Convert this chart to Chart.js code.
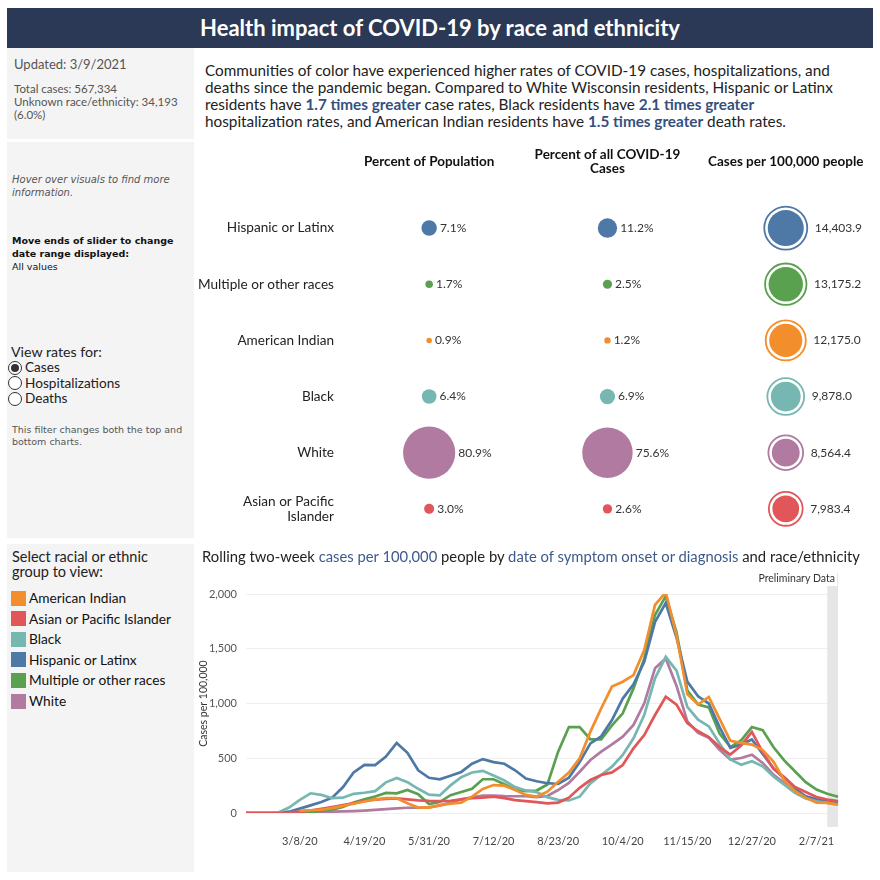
<!DOCTYPE html>
<html>
<head>
<meta charset="utf-8">
<script src="https://cdn.jsdelivr.net/npm/chart.js@4.4.0/dist/chart.umd.min.js"></script>
<style>
  body { margin: 0; width: 880px; height: 880px; background: #fff; font-family: Lato, "Noto Sans", sans-serif; position: relative; overflow: hidden; color: #222; }
  .abs { position: absolute; white-space: nowrap; }
  #hdr { left: 7px; top: 8px; width: 866px; height: 40px; background: #2b3856; color: #fff; font-weight: bold; font-size: 22px; text-align: center; line-height: 40px; }
  .side { position: absolute; left: 7px; width: 187px; background: #f4f4f4; }
  .small { font-family: "DejaVu Sans", sans-serif; font-size: 9.5px; color: #555; line-height: 13px; }
  .radio { position: absolute; left: 8px; width: 12px; height: 12px; border: 1px solid #333; border-radius: 50%; background: #fff; }
  .radio.on::after { content: ""; position: absolute; left: 2px; top: 2px; width: 8px; height: 8px; border-radius: 50%; background: #333; }
  .sw { position: absolute; left: 11px; width: 15px; height: 15px; }
  .hl { color: #34507e; font-weight: bold; }
  .bl { color: #3d5a8c; }
  #para { left: 205px; top: 62px; font-size: 15.3px; line-height: 17px; color: #222; }
</style>
</head>
<body>
<div class="abs" id="hdr">Health impact of COVID-19 by race and ethnicity</div>

<div class="side" style="top:48px;height:91px"></div>
<div class="side" style="top:142px;height:396px"></div>
<div class="side" style="top:544px;height:328px"></div>

<div class="abs" style="left:14px;top:56px;font-size:13px;color:#555">Updated: 3/9/2021</div>
<div class="abs" style="left:14px;top:83px;font-size:11.5px;line-height:12.8px;color:#555">Total cases: 567,334<br>Unknown race/ethnicity: 34,193<br>(6.0%)</div>

<div class="abs small" style="left:12px;top:173px;font-style:italic;font-size:10px">Hover over visuals to find more<br>information.</div>
<div class="abs small" style="left:12px;top:234px;color:#111"><b>Move ends of slider to change<br>date range displayed:</b><br>All values</div>

<div class="abs" style="left:11px;top:343px;font-size:14.2px;color:#222">View rates for:</div>
<div class="radio on" style="top:361px"></div>
<div class="radio" style="top:376px"></div>
<div class="radio" style="top:392px"></div>
<div class="abs" style="left:25px;top:360px;font-size:13.6px;line-height:15.5px;color:#222">Cases<br>Hospitalizations<br>Deaths</div>
<div class="abs small" style="left:12px;top:424px;font-size:9.5px;line-height:12px">This filter changes both the top and<br>bottom charts.</div>

<div class="abs" style="left:12px;top:549px;font-size:14.5px;line-height:15px;color:#222">Select racial or ethnic<br>group to view:</div>
<div id="legend"></div>

<div class="abs" id="para">Communities of color have experienced higher rates of COVID-19 cases, hospitalizations, and<br>deaths since the pandemic began. Compared to White Wisconsin residents, Hispanic or Latinx<br>residents have <span class="hl">1.7 times greater</span> case rates, Black residents have <span class="hl">2.1 times greater</span><br>hospitalization rates, and American Indian residents have <span class="hl">1.5 times greater</span> death rates.</div>

<div class="abs" style="left:195px;top:140px;width:706px;height:423px"><canvas id="bubbles"></canvas></div>

<div class="abs" style="left:202px;top:547px;font-size:14.8px;color:#222">Rolling two-week <span class="bl">cases per 100,000</span> people by <span class="bl">date of symptom onset or diagnosis</span> and race/ethnicity</div>
<div class="abs" style="left:195px;top:565px;width:680px;height:290px"><canvas id="lines"></canvas></div>

<script>
// top section: one row per group
const rows = ['Hispanic or Latinx', 'Multiple or other races', 'American Indian', 'Black', 'White', ['Asian or Pacific', 'Islander']];
const rowColors = ['#4e79a7', '#59a14f', '#f28e2b', '#76b7b2', '#b07aa1', '#e15759'];
const columns = ['Percent of Population', ['Percent of all COVID-19', 'Cases'], 'Cases per 100,000 people'];
const pctPopulation = [7.1, 1.7, 0.9, 6.4, 80.9, 3.0];
const pctCases = [11.2, 2.5, 1.2, 6.9, 75.6, 2.6];
const casesPer100k = [14403.9, 13175.2, 12175.0, 9878.0, 8564.4, 7983.4];

// bottom section: weekly rolling rates
const weeks = ['2/2/20','2/9/20','2/16/20','2/23/20','3/1/20','3/8/20','3/15/20','3/22/20','3/29/20','4/5/20',
  '4/12/20','4/19/20','4/26/20','5/3/20','5/10/20','5/17/20','5/24/20','5/31/20','6/7/20','6/14/20',
  '6/21/20','6/28/20','7/5/20','7/12/20','7/19/20','7/26/20','8/2/20','8/9/20','8/16/20','8/23/20',
  '8/30/20','9/6/20','9/13/20','9/20/20','9/27/20','10/4/20','10/11/20','10/18/20','10/25/20','11/1/20',
  '11/8/20','11/15/20','11/22/20','11/29/20','12/6/20','12/13/20','12/20/20','12/27/20','1/3/21','1/10/21',
  '1/17/21','1/24/21','1/31/21','2/7/21','2/14/21','2/21/21'];
const xTickLabels = ['3/8/20', '4/19/20', '5/31/20', '7/12/20', '8/23/20', '10/4/20', '11/15/20', '12/27/20', '2/7/21'];
const yTicks = [0, 500, 1000, 1500, 2000];
const prelimStart = '2/14/21';

const groups = ['American Indian', 'Asian or Pacific Islander', 'Black', 'Hispanic or Latinx', 'Multiple or other races', 'White'];
const groupColors = ['#f28e2b', '#e15759', '#76b7b2', '#4e79a7', '#59a14f', '#b07aa1'];

const americanIndian = [null,null,null,null,null,20,25,30,45,65,
  85,105,125,135,135,90,50,50,70,85,
  95,150,220,255,250,210,165,150,195,285,
  370,500,743,956,1154,1199,1260,1489,1900,2015,
  1620,1085,990,1060,860,660,640,625,575,470,
  300,200,140,94,93,78];
const asianPI = [0,0,0,0,3,12,22,38,55,72,
  90,110,122,128,133,125,115,110,108,112,
  125,135,140,150,136,118,108,100,88,95,
  140,230,301,347,371,438,591,712,895,1062,
  990,822,747,693,602,534,617,740,556,404,
  328,238,192,146,123,108];
const black = [0,0,0,5,50,120,180,165,135,140,
  175,185,200,280,320,282,221,167,161,252,
  327,370,385,342,297,236,206,191,145,120,
  115,149,271,347,423,530,682,895,1230,1426,
  1300,970,852,791,635,488,441,472,426,333,
  259,184,133,107,92,75];
const hispanic = [0,0,0,2,12,40,70,100,140,235,
  370,440,438,515,640,550,390,322,308,340,
  375,450,492,465,450,390,315,290,272,265,
  323,465,636,700,849,1045,1175,1380,1745,1918,
  1600,1200,1065,1000,785,595,625,671,540,410,
  312,222,153,123,115,100];
const multiple = [0,0,0,0,2,5,10,18,30,55,
  95,125,150,183,180,210,172,82,100,163,
  192,222,308,308,262,212,200,205,260,560,
  785,785,672,672,800,910,1138,1410,1808,1980,
  1650,1120,990,965,725,602,663,785,757,602,
  480,382,282,214,176,149];
const white = [0,0,0,0,2,5,8,10,12,15,
  18,22,28,35,42,48,48,52,70,95,
  125,143,158,160,155,153,153,145,155,210,
  275,377,484,560,627,697,804,1002,1321,1412,
  1160,837,732,686,577,487,502,533,457,350,
  274,213,152,122,107,91];
const series = [americanIndian, asianPI, black, hispanic, multiple, white];

// legend in side panel
const legend = document.getElementById('legend');
groups.forEach((g, i) => {
  const top = 590.5 + i * 20.6;
  legend.insertAdjacentHTML('beforeend',
    `<div class="sw" style="top:${top}px;background:${groupColors[i]}"></div>` +
    `<div class="abs" style="left:29px;top:${top - 1.5}px;font-size:13.7px;color:#111">${g}</div>`);
});

Chart.defaults.font.family = 'Lato, "Noto Sans", sans-serif';
Chart.defaults.animation = false;

// bubble chart
const k1 = 2.9, k3 = 0.15;
const fmt1 = v => v.toLocaleString('en-US', { minimumFractionDigits: 1, maximumFractionDigits: 1 });
const bubbleSets = [
  { data: rows.map((r, i) => ({ x: 0, y: i, r: k1 * Math.sqrt(pctPopulation[i]) })), texts: pctPopulation.map(v => v.toFixed(1) + '%'), gap: 3, order: 1 },
  { data: rows.map((r, i) => ({ x: 1, y: i, r: k1 * Math.sqrt(pctCases[i]) })), texts: pctCases.map(v => v.toFixed(1) + '%'), gap: 3, order: 1 },
  { data: rows.map((r, i) => ({ x: 2, y: i, r: k3 * Math.sqrt(casesPer100k[i]) })), texts: casesPer100k.map(fmt1), gap: 11, order: 1 },
  { data: rows.map((r, i) => ({ x: 2, y: i, r: k3 * Math.sqrt(casesPer100k[i]) + 3.5 })), ring: true, order: 2 }
].map(d => ({
  data: d.data,
  texts: d.texts,
  gap: d.gap,
  order: d.order,
  backgroundColor: d.ring ? '#fff' : rowColors,
  borderColor: rowColors,
  borderWidth: d.ring ? 1.8 : 0,
  hoverRadius: 0
}));

const bubbleLabels = {
  id: 'bubbleLabels',
  afterDatasetsDraw(chart) {
    const ctx = chart.ctx;
    ctx.save();
    ctx.font = '12px Lato, "Noto Sans", sans-serif';
    ctx.fillStyle = '#333';
    ctx.textBaseline = 'middle';
    chart.data.datasets.forEach((ds, di) => {
      if (!ds.texts) return;
      chart.getDatasetMeta(di).data.forEach((el, i) => {
        ctx.fillText(ds.texts[i], el.x + ds.data[i].r + ds.gap, el.y);
      });
    });
    ctx.restore();
  }
};

new Chart(document.getElementById('bubbles'), {
  type: 'bubble',
  data: { datasets: bubbleSets },
  options: {
    responsive: true,
    maintainAspectRatio: false,
    layout: { padding: 0 },
    plugins: { legend: { display: false }, tooltip: { enabled: false } },
    scales: {
      x: {
        type: 'linear', position: 'top', min: -0.5, max: 2.5,
        afterBuildTicks: s => { s.ticks = columns.map((c, i) => ({ value: i })); },
        afterFit: s => { s.height = 60; },
        grid: { display: false }, border: { display: false },
        ticks: { callback: v => columns[v], maxRotation: 0, autoSkip: false, padding: 23, crossAlign: 'center',
          font: { size: 13.5, weight: 'bold', lineHeight: 1.05 }, color: '#111' }
      },
      y: {
        type: 'linear', min: -0.5, max: 5.5, reverse: true,
        afterBuildTicks: s => { s.ticks = rows.map((r, i) => ({ value: i })); },
        afterFit: s => { s.width = 145; },
        grid: { display: false, drawTicks: false }, border: { display: false },
        ticks: { callback: v => rows[v], autoSkip: false, padding: 6, font: { size: 13.6, lineHeight: 1.1 }, color: '#222' }
      }
    }
  },
  plugins: [bubbleLabels]
});

// line chart
const prelimBand = {
  id: 'prelimBand',
  beforeDatasetsDraw(chart) {
    const { ctx, chartArea, scales: { x } } = chart;
    const x0 = x.getPixelForValue(weeks.indexOf(prelimStart));
    const x1 = x.getPixelForValue(weeks.length - 1);
    ctx.save();
    ctx.fillStyle = '#e6e6e6';
    ctx.fillRect(x0, chartArea.top - 21, x1 - x0, chartArea.bottom - chartArea.top + 35);
    ctx.font = '10.5px Lato, "Noto Sans", sans-serif';
    ctx.textAlign = 'right';
    ctx.textBaseline = 'middle';
    const w = ctx.measureText('Preliminary Data').width;
    ctx.fillStyle = '#fff';
    ctx.fillRect(x1 - 3 - w - 2, chartArea.top - 22, w + 4, 14);
    ctx.fillStyle = '#333';
    ctx.fillText('Preliminary Data', x1 - 3, chartArea.top - 15);
    ctx.restore();
  }
};

new Chart(document.getElementById('lines'), {
  type: 'line',
  data: {
    labels: weeks,
    datasets: groups.map((g, i) => ({
      label: g,
      data: series[i],
      borderColor: groupColors[i],
      backgroundColor: groupColors[i],
      borderWidth: 2.7,
      pointRadius: 0,
      tension: 0,
      fill: false
    }))
  },
  options: {
    responsive: true,
    maintainAspectRatio: false,
    layout: { padding: { top: 29, right: 37 } },
    plugins: { legend: { display: false }, tooltip: { enabled: false } },
    scales: {
      x: {
        grid: { display: false }, border: { display: false },
        afterFit: s => { s.height = 42; },
        ticks: {
          autoSkip: false, maxRotation: 0, padding: 14, font: { size: 11 }, color: '#444',
          callback(v) { const l = this.getLabelForValue(v); return xTickLabels.includes(l) ? l : ''; }
        }
      },
      y: {
        min: 0, max: 2000,
        afterBuildTicks: s => { s.ticks = yTicks.map(v => ({ value: v })); },
        afterFit: s => { s.width = 51; },
        grid: { color: '#efefef', drawTicks: false }, border: { display: false },
        ticks: { padding: 9, font: { size: 11 }, color: '#555', callback: v => v.toLocaleString('en-US') },
        title: { display: true, text: 'Cases per 100,000', font: { size: 10.5 }, color: '#333', padding: 2 }
      }
    }
  },
  plugins: [prelimBand]
});
</script>
</body>
</html>
